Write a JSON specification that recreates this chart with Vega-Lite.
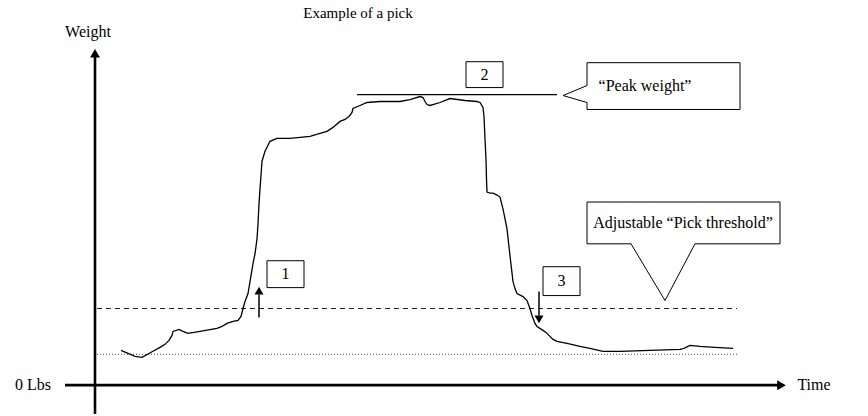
{
  "$schema": "https://vega.github.io/schema/vega-lite/v6.json",
  "width": 868,
  "height": 416,
  "padding": 0,
  "autosize": {"type": "fit", "contains": "padding"},
  "background": "white",
  "config": {"view": {"stroke": null}},
  "encoding": {
    "x": {"field": "t", "type": "quantitative", "scale": {"domain": [-95, 773], "nice": false, "zero": false}, "axis": null},
    "y": {"field": "w", "type": "quantitative", "scale": {"domain": [-29, 387], "nice": false, "zero": false}, "axis": null}
  },
  "layer": [
    {
      "data": {"values": [{"t": 2, "t2": 643, "w": 31}]},
      "mark": {"type": "rule", "color": "#444", "strokeWidth": 1, "strokeDash": [1, 2]},
      "encoding": {"x2": {"field": "t2"}}
    },
    {
      "data": {"values": [{"t": 2, "t2": 642, "w": 77}]},
      "mark": {"type": "rule", "color": "#222", "strokeWidth": 1.2, "strokeDash": [5, 4]},
      "encoding": {"x2": {"field": "t2"}}
    },
    {
      "data": {"values": [{"t": 262, "t2": 462, "w": 292}]},
      "mark": {"type": "rule", "color": "black", "strokeWidth": 1.3},
      "encoding": {"x2": {"field": "t2"}}
    },
    {
      "data": {"values": [
        {"t": 26, "w": 35}, {"t": 33, "w": 32}, {"t": 40, "w": 29}, {"t": 47, "w": 28}, {"t": 58, "w": 34},
        {"t": 65, "w": 38}, {"t": 70, "w": 41}, {"t": 74, "w": 45}, {"t": 77, "w": 50}, {"t": 78, "w": 54},
        {"t": 84, "w": 56}, {"t": 88, "w": 54}, {"t": 93, "w": 52}, {"t": 105, "w": 54}, {"t": 122, "w": 57},
        {"t": 127, "w": 59}, {"t": 132, "w": 62}, {"t": 138, "w": 64}, {"t": 143, "w": 65}, {"t": 146, "w": 69},
        {"t": 148, "w": 77}, {"t": 150, "w": 84}, {"t": 153, "w": 92}, {"t": 155, "w": 104}, {"t": 158, "w": 122},
        {"t": 160, "w": 132}, {"t": 162, "w": 147}, {"t": 163, "w": 162}, {"t": 164, "w": 182}, {"t": 165, "w": 197},
        {"t": 167, "w": 225}, {"t": 170, "w": 235}, {"t": 175, "w": 245}, {"t": 182, "w": 248}, {"t": 195, "w": 248},
        {"t": 205, "w": 249}, {"t": 215, "w": 250}, {"t": 225, "w": 253}, {"t": 232, "w": 255}, {"t": 238, "w": 259},
        {"t": 245, "w": 265}, {"t": 250, "w": 267}, {"t": 254, "w": 270}, {"t": 257, "w": 274}, {"t": 258, "w": 278},
        {"t": 265, "w": 281}, {"t": 272, "w": 284}, {"t": 285, "w": 285}, {"t": 305, "w": 285}, {"t": 315, "w": 287},
        {"t": 325, "w": 290}, {"t": 328, "w": 289}, {"t": 330, "w": 285}, {"t": 332, "w": 282}, {"t": 335, "w": 281},
        {"t": 345, "w": 284}, {"t": 355, "w": 288}, {"t": 370, "w": 286}, {"t": 382, "w": 285}, {"t": 385, "w": 284},
        {"t": 388, "w": 279}, {"t": 389, "w": 270}, {"t": 390, "w": 247}, {"t": 391, "w": 227}, {"t": 391.5, "w": 207},
        {"t": 392, "w": 194}, {"t": 395, "w": 193}, {"t": 398, "w": 193}, {"t": 402, "w": 191}, {"t": 405, "w": 189},
        {"t": 408, "w": 177}, {"t": 412, "w": 157}, {"t": 415, "w": 130}, {"t": 418, "w": 104}, {"t": 420, "w": 97},
        {"t": 422, "w": 92}, {"t": 428, "w": 89}, {"t": 432, "w": 85}, {"t": 435, "w": 77}, {"t": 437, "w": 70},
        {"t": 440, "w": 62}, {"t": 442, "w": 59}, {"t": 448, "w": 55}, {"t": 451, "w": 53}, {"t": 453, "w": 51},
        {"t": 455, "w": 49}, {"t": 458, "w": 46}, {"t": 462, "w": 44}, {"t": 472, "w": 42}, {"t": 485, "w": 39},
        {"t": 495, "w": 37}, {"t": 508, "w": 34}, {"t": 525, "w": 34}, {"t": 555, "w": 35}, {"t": 585, "w": 36},
        {"t": 589, "w": 37}, {"t": 595, "w": 40}, {"t": 605, "w": 39}, {"t": 620, "w": 38}, {"t": 638, "w": 37}
      ]},
      "mark": {"type": "line", "color": "black", "strokeWidth": 1.3}
    },
    {
      "data": {"values": [
        {"t": 0, "t2": 0, "w": -29, "w2": 330},
        {"t": -30, "t2": 683, "w": 0, "w2": 0}
      ]},
      "mark": {"type": "rule", "color": "black", "strokeWidth": 2.6},
      "encoding": {"x2": {"field": "t2"}, "y2": {"field": "w2"}}
    },
    {
      "data": {"values": [
        {"t": 164, "t2": 164, "w": 68, "w2": 91},
        {"t": 444, "t2": 444, "w": 94, "w2": 70}
      ]},
      "mark": {"type": "rule", "color": "black", "strokeWidth": 1.5},
      "encoding": {"x2": {"field": "t2"}, "y2": {"field": "w2"}}
    },
    {
      "data": {"values": [
        {"t": 0, "w": 333.5, "dir": "up"},
        {"t": 686.5, "w": 0, "dir": "right"}
      ]},
      "mark": {"type": "point", "filled": true, "color": "black", "opacity": 1, "size": 100},
      "encoding": {"shape": {"field": "dir", "type": "nominal", "scale": {"domain": ["up", "right", "down"], "range": ["triangle-up", "triangle-right", "triangle-down"]}, "legend": null}}
    },
    {
      "data": {"values": [
        {"t": 164, "w": 95, "dir": "up"},
        {"t": 444, "w": 66, "dir": "down"}
      ]},
      "mark": {"type": "point", "filled": true, "color": "black", "opacity": 1, "size": 81},
      "encoding": {"shape": {"field": "dir", "type": "nominal", "scale": {"domain": ["up", "right", "down"], "range": ["triangle-up", "triangle-right", "triangle-down"]}, "legend": null}}
    },
    {
      "data": {"values": [
        {"t": 172, "t2": 209, "w": 125, "w2": 98},
        {"t": 371, "t2": 408, "w": 325, "w2": 299},
        {"t": 448, "t2": 485, "w": 119, "w2": 90}
      ]},
      "mark": {"type": "rect", "fill": "white", "stroke": "black", "strokeWidth": 1},
      "encoding": {"x2": {"field": "t2"}, "y2": {"field": "w2"}}
    },
    {
      "data": {"values": [
        {"callout": "peak", "seq": 1, "t": 492, "w": 324},
        {"callout": "peak", "seq": 2, "t": 645, "w": 324},
        {"callout": "peak", "seq": 3, "t": 645, "w": 277},
        {"callout": "peak", "seq": 4, "t": 492, "w": 277},
        {"callout": "peak", "seq": 5, "t": 492, "w": 284},
        {"callout": "peak", "seq": 6, "t": 468, "w": 291},
        {"callout": "peak", "seq": 7, "t": 492, "w": 301},
        {"callout": "peak", "seq": 8, "t": 492, "w": 324},
        {"callout": "threshold", "seq": 1, "t": 492, "w": 184},
        {"callout": "threshold", "seq": 2, "t": 685, "w": 184},
        {"callout": "threshold", "seq": 3, "t": 685, "w": 142},
        {"callout": "threshold", "seq": 4, "t": 600, "w": 142},
        {"callout": "threshold", "seq": 5, "t": 570, "w": 85},
        {"callout": "threshold", "seq": 6, "t": 536, "w": 142},
        {"callout": "threshold", "seq": 7, "t": 492, "w": 142},
        {"callout": "threshold", "seq": 8, "t": 492, "w": 184}
      ]},
      "mark": {"type": "line", "color": "black", "strokeWidth": 1},
      "encoding": {
        "detail": {"field": "callout", "type": "nominal"},
        "order": {"field": "seq", "type": "quantitative"}
      }
    },
    {
      "data": {"values": [
        {"t": -7, "w": 355, "label": "Weight"},
        {"t": -62, "w": 0, "label": "0 Lbs"},
        {"t": 719, "w": 0, "label": "Time"},
        {"t": 550, "w": 301, "label": "“Peak weight”"},
        {"t": 588, "w": 163, "label": "Adjustable “Pick threshold”"},
        {"t": 190.5, "w": 111.5, "label": "1"},
        {"t": 389.5, "w": 312, "label": "2"},
        {"t": 466.5, "w": 104.5, "label": "3"}
      ]},
      "mark": {"type": "text", "font": "Liberation Serif", "fontSize": 16, "color": "black", "align": "center", "baseline": "middle"},
      "encoding": {"text": {"field": "label"}}
    },
    {
      "data": {"values": [
        {"t": 263, "w": 374, "label": "Example of a pick"}
      ]},
      "mark": {"type": "text", "font": "Liberation Serif", "fontSize": 15, "color": "black", "align": "center", "baseline": "middle"},
      "encoding": {"text": {"field": "label"}}
    }
  ]
}
